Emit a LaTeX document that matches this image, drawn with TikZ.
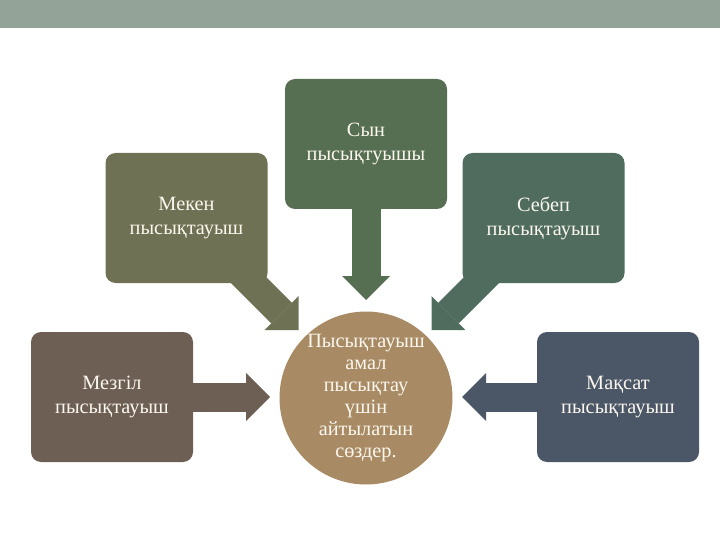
\documentclass[tikz,border=0pt]{standalone}
\usepackage{fontspec}
\setmainfont{Liberation Serif}
\usetikzlibrary{arrows.meta,backgrounds}
\definecolor{barc}{HTML}{94A397}
\definecolor{sync}{HTML}{566E51}
\definecolor{mekc}{HTML}{6F7154}
\definecolor{sebc}{HTML}{4F6C5F}
\definecolor{mezc}{HTML}{6E5F55}
\definecolor{makc}{HTML}{4B5767}
\definecolor{circ}{HTML}{A88B64}
\definecolor{txtc}{HTML}{FBF7EE}
\tikzset{
  box/.style={rectangle, rounded corners=10pt, minimum width=162pt, minimum height=130pt,
    inner sep=2pt, align=center, text=txtc, font=\fontsize{20.3}{24}\selectfont},
  hub/.style={circle, minimum size=173pt, inner sep=0pt, align=center, fill=circ,
    text=txtc, font=\fontsize{20.3}{22}\selectfont},
  fatarrow/.style={line width=29pt, line cap=butt,
    -{Triangle[width=48pt 0 0, length=24pt 0 0, line width=0pt 0 0]}}
}
\begin{document}
\begin{tikzpicture}[x=1pt,y=-1pt]
\useasboundingbox (0,0) rectangle (720,540);
\fill[barc] (0,0) rectangle (720,28);
\node[box, fill=sync] (syn) at (366,144) {Сын\\пысықтуышы};
\node[box, fill=mekc] (mek) at (186.5,218) {Мекен\\пысықтауыш};
\node[box, fill=sebc] (seb) at (543.5,218) {Себеп\\пысықтауыш};
\node[box, fill=mezc] (mez) at (112,397) {Мезгіл\\пысықтауыш};
\node[box, fill=makc] (mak) at (618,397) {Мақсат\\пысықтауыш};
\node[hub] (hub) at (366,398) {Пысықтауыш\\амал\\пысықтау\\үшін\\айтылатын\\сөздер.};
\coordinate (tsyn) at (366,300);
\coordinate (tmek) at (298.5,330);
\coordinate (tseb) at (431.5,330);
\coordinate (tmez) at (270,397);
\coordinate (tmak) at (462,397);
\begin{scope}[on background layer]
\draw[fatarrow, sync] (syn.center) -- (tsyn);
\draw[fatarrow, mekc] (mek.center) -- (tmek);
\draw[fatarrow, sebc] (seb.center) -- (tseb);
\draw[fatarrow, mezc] (mez.center) -- (tmez);
\draw[fatarrow, makc] (mak.center) -- (tmak);
\end{scope}
\end{tikzpicture}
\end{document}
